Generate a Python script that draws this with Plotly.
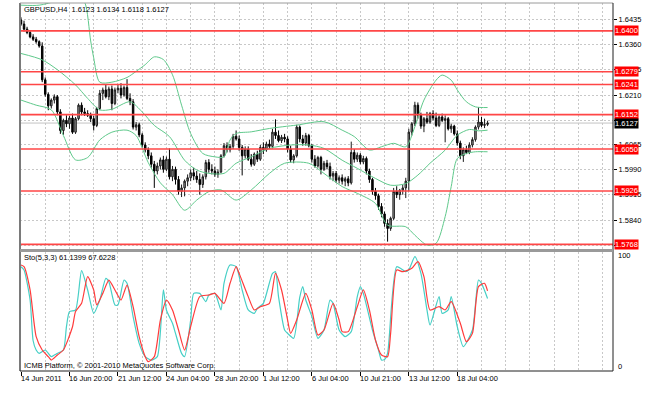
import plotly.graph_objects as go

# ---------------- data ----------------
open_ = [1.6432,1.6420,1.6405,1.6395,1.6382,1.6375,1.6368,1.6355,1.6255,1.6212,
         1.6178,1.6195,1.6205,1.6160,1.6105,1.6135,1.6125,1.6142,1.6100,1.6140,
         1.6180,1.6160,1.6155,1.6150,1.6140,1.6120,1.6170,1.6215,1.6225,1.6205,
         1.6228,1.6185,1.6225,1.6230,1.6210,1.6232,1.6200,1.6190,1.6115,1.6122,
         1.6092,1.6062,1.6048,1.6030,1.6005,1.5985,1.6000,1.6018,1.5990,1.6020,
         1.5968,1.5990,1.5960,1.5925,1.5935,1.5955,1.5965,1.5980,1.5970,1.5960,
         1.5945,1.5968,1.6010,1.5990,1.5985,1.5975,1.5982,1.6030,1.6060,1.6048,
         1.6058,1.6088,1.6080,1.6055,1.6030,1.6050,1.6020,1.6005,1.6035,1.6020,
         1.6055,1.6048,1.6065,1.6058,1.6100,1.6090,1.6075,1.6085,1.6080,1.6050,
         1.6018,1.6030,1.6115,1.6080,1.6068,1.6090,1.6060,1.6020,1.6000,1.6025,
         1.5990,1.6008,1.5998,1.5970,1.5978,1.5958,1.5965,1.5955,1.5962,1.5950,
         1.6040,1.6020,1.6032,1.6012,1.6022,1.5985,1.5960,1.5925,1.5912,1.5880,
         1.5858,1.5830,1.5815,1.5845,1.5925,1.5915,1.5928,1.5935,1.5955,1.6100,
         1.6125,1.6180,1.6150,1.6118,1.6140,1.6130,1.6155,1.6142,1.6120,1.6145,
         1.6135,1.6140,1.6110,1.6118,1.6095,1.6068,1.6030,1.6048,1.6040,1.6062,
         1.6078,1.6115,1.6130,1.6120,1.6123]
high = [1.6440,1.6430,1.6412,1.6400,1.6390,1.6382,1.6372,1.6366,1.6262,1.6218,
        1.6200,1.6212,1.6210,1.6168,1.6140,1.6150,1.6148,1.6155,1.6145,1.6185,
        1.6188,1.6172,1.6165,1.6158,1.6148,1.6175,1.6225,1.6232,1.6240,1.6235,
        1.6238,1.6232,1.6240,1.6245,1.6238,1.6257,1.6215,1.6198,1.6130,1.6128,
        1.6098,1.6070,1.6055,1.6040,1.6015,1.6010,1.6025,1.6030,1.6028,1.6052,
        1.6000,1.5998,1.5970,1.5945,1.5960,1.5975,1.5990,1.5995,1.5985,1.5978,
        1.5975,1.6018,1.6020,1.6005,1.5998,1.5990,1.6035,1.6068,1.6070,1.6065,
        1.6095,1.6105,1.6090,1.6062,1.6058,1.6058,1.6035,1.6040,1.6045,1.6062,
        1.6070,1.6072,1.6078,1.6110,1.6138,1.6105,1.6092,1.6095,1.6088,1.6060,
        1.6035,1.6122,1.6120,1.6092,1.6098,1.6095,1.6065,1.6032,1.6030,1.6030,
        1.6015,1.6018,1.6010,1.5985,1.5985,1.5972,1.5975,1.5968,1.5970,1.6072,
        1.6050,1.6040,1.6038,1.6030,1.6028,1.5992,1.5965,1.5935,1.5918,1.5890,
        1.5865,1.5842,1.5850,1.5935,1.5940,1.5932,1.5945,1.5965,1.6110,1.6130,
        1.6190,1.6188,1.6158,1.6145,1.6160,1.6160,1.6165,1.6158,1.6150,1.6155,
        1.6150,1.6145,1.6125,1.6122,1.6105,1.6075,1.6055,1.6060,1.6070,1.6085,
        1.6120,1.6174,1.6145,1.6140,1.6134]
low = [1.6415,1.6398,1.6390,1.6378,1.6370,1.6362,1.6350,1.6248,1.6205,1.6165,
       1.6170,1.6185,1.6150,1.6095,1.6092,1.6115,1.6110,1.6095,1.6095,1.6135,
       1.6150,1.6148,1.6145,1.6130,1.6105,1.6115,1.6165,1.6195,1.6200,1.6195,
       1.6165,1.6180,1.6215,1.6200,1.6205,1.6195,1.6180,1.6108,1.6105,1.6085,
       1.6055,1.6040,1.6020,1.5995,1.5935,1.5975,1.5990,1.5980,1.5985,1.5960,
       1.5955,1.5945,1.5915,1.5908,1.5910,1.5940,1.5955,1.5958,1.5950,1.5915,
       1.5935,1.5960,1.5980,1.5975,1.5968,1.5965,1.5978,1.6025,1.6040,1.6040,
       1.6050,1.6075,1.6045,1.5972,1.6022,1.6015,1.5998,1.6000,1.6012,1.6015,
       1.6035,1.6042,1.6050,1.6052,1.6080,1.6070,1.6068,1.6070,1.6040,1.6010,
       1.6008,1.6025,1.6070,1.6060,1.6060,1.6055,1.6010,1.5995,1.5995,1.5975,
       1.5985,1.5990,1.5960,1.5955,1.5950,1.5948,1.5945,1.5940,1.5940,1.5945,
       1.6010,1.6012,1.6005,1.6005,1.5975,1.5950,1.5915,1.5900,1.5870,1.5848,
       1.5820,1.5776,1.5808,1.5840,1.5905,1.5900,1.5915,1.5905,1.5925,1.6090,
       1.6118,1.6140,1.6110,1.6100,1.6125,1.6125,1.6135,1.6115,1.6115,1.6130,
       1.6070,1.6105,1.6098,1.6090,1.6060,1.6020,1.6012,1.6035,1.6035,1.6055,
       1.6072,1.6108,1.6115,1.6112,1.6118]
close = [1.6420,1.6405,1.6395,1.6382,1.6375,1.6368,1.6355,1.6255,1.6212,1.6178,
         1.6195,1.6205,1.6160,1.6105,1.6135,1.6125,1.6142,1.6100,1.6140,1.6180,
         1.6160,1.6155,1.6150,1.6140,1.6120,1.6170,1.6215,1.6225,1.6205,1.6228,
         1.6185,1.6225,1.6230,1.6210,1.6232,1.6200,1.6190,1.6115,1.6122,1.6092,
         1.6062,1.6048,1.6030,1.6005,1.5985,1.6000,1.6018,1.5990,1.6020,1.5968,
         1.5990,1.5960,1.5925,1.5935,1.5955,1.5965,1.5980,1.5970,1.5960,1.5945,
         1.5968,1.6010,1.5990,1.5985,1.5975,1.5982,1.6030,1.6060,1.6048,1.6058,
         1.6088,1.6080,1.6055,1.6030,1.6050,1.6020,1.6005,1.6035,1.6020,1.6055,
         1.6048,1.6065,1.6058,1.6100,1.6090,1.6075,1.6085,1.6080,1.6050,1.6018,
         1.6030,1.6115,1.6080,1.6068,1.6090,1.6060,1.6020,1.6000,1.6025,1.5990,
         1.6008,1.5998,1.5970,1.5978,1.5958,1.5965,1.5955,1.5962,1.5950,1.6040,
         1.6020,1.6032,1.6012,1.6022,1.5985,1.5960,1.5925,1.5912,1.5880,1.5858,
         1.5830,1.5815,1.5845,1.5925,1.5915,1.5928,1.5935,1.5955,1.6100,1.6125,
         1.6180,1.6150,1.6118,1.6140,1.6130,1.6155,1.6142,1.6120,1.6145,1.6135,
         1.6140,1.6110,1.6118,1.6095,1.6068,1.6030,1.6048,1.6040,1.6062,1.6078,
         1.6115,1.6130,1.6120,1.6123,1.6127]
bars = list(range(len(close)))

# Bollinger band lines (read at sample bars)
bb_upper_bar = [0, 6, 12, 16, 19, 21, 23, 24, 26, 30, 35, 38, 41, 44, 47, 50, 53, 56, 60, 64, 67,
                69, 71, 76, 82, 91, 100, 106, 110, 115, 119, 123, 127, 130, 133, 137, 139, 142,
                144, 147, 150, 154]
bb_upper = [1.6476, 1.6476, 1.6490, 1.6510, 1.6500, 1.6485, 1.6370, 1.6320, 1.6248, 1.6248,
            1.6262, 1.6280, 1.6300, 1.6323, 1.6315, 1.6270, 1.6180, 1.6096, 1.6037, 1.6027,
            1.6027, 1.6077, 1.6096, 1.6101, 1.6111, 1.6121, 1.6131, 1.6106, 1.6087, 1.6047,
            1.6057, 1.6067, 1.6057, 1.6116, 1.6195, 1.6254, 1.6269, 1.6254, 1.6225, 1.6190,
            1.6175, 1.6173]
bb_mid_bar = [0, 7, 12, 18, 22, 26, 30, 36, 40, 44, 49, 54, 58, 62, 67, 71, 76, 82, 89, 95,
              100, 106, 111, 117, 122, 127, 131, 135, 140, 144, 148, 151, 154]
bb_mid = [1.6333, 1.6314, 1.6285, 1.6240, 1.6200, 1.6166, 1.6168, 1.6190, 1.6160, 1.6120,
          1.6087, 1.6017, 1.5988, 1.5978, 1.5978, 1.6008, 1.6027, 1.6052, 1.6062, 1.6062,
          1.6052, 1.6017, 1.5993, 1.5963, 1.5943, 1.5948, 1.5973, 1.6008, 1.6047, 1.6091,
          1.6108, 1.6104, 1.6106]
bb_lower_bar = [0, 5, 10, 14, 18, 22, 26, 30, 35, 38, 42, 46, 50, 54, 58, 62, 66, 71, 76, 82,
                87, 95, 100, 106, 111, 117, 121, 127, 130, 134, 137, 140, 142, 144, 147, 150, 154]
bb_lower = [1.6195, 1.6180, 1.6166, 1.6090, 1.6018, 1.6025, 1.6077, 1.6100, 1.6106, 1.6090,
            1.6010, 1.5950, 1.5915, 1.5869, 1.5899, 1.5924, 1.5929, 1.5899, 1.5929, 1.5978,
            1.6008, 1.6008, 1.5978, 1.5939, 1.5919, 1.5889, 1.5825, 1.5820, 1.5795, 1.5766,
            1.5771, 1.5850, 1.5939, 1.6022, 1.6037, 1.6042, 1.6042]

# Stochastic (5,3,3)
sto_main_bar = [0,1,3,4,5,6,8,10,11,12,14,15,16,18,20,22,24,26,28,29,31,32,34,35,37,39,41,43,45,
                47,48,50,51,53,54,56,57,59,61,62,64,66,67,69,71,73,75,77,78,80,83,84,85,87,88,90,
                92,93,94,96,98,100,102,103,105,107,109,111,112,113,116,118,119,120,121,124,127,
                128,130,132,134,135,138,139,141,142,144,146,149,151,152,153,154]
sto_main = [88.3,85.5,59.8,25.0,17.1,14.2,17.1,11.4,12.8,14.2,17.1,37.0,49.9,51.3,84.9,68.4,
            48.4,59.8,78.3,75.5,55.6,55.6,76.9,74.1,45.6,22.8,11.4,8.5,11.4,68.4,51.3,39.9,31.3,
            14.2,11.4,42.7,65.5,65.5,58.4,64.1,65.5,51.3,74.1,89.7,88.3,68.4,51.3,48.4,52.7,57.0,
            82.6,84.0,62.7,34.2,31.3,27.1,62.0,71.2,59.8,45.6,27.1,34.2,59.8,57.0,34.2,28.5,32.8,
            62.7,71.2,65.5,34.2,17.1,8.5,9.0,14.2,88.3,84.0,85.5,96.9,82.6,51.3,38.5,62.7,48.4,
            51.3,62.7,37.0,19.9,34.2,76.9,74.1,68.0,61.14]
sto_signal_bar = [0,1,3,5,7,9,10,12,14,17,18,20,22,24,25,27,29,31,33,35,37,39,41,42,44,46,48,
                  50,52,54,56,59,62,64,67,69,71,72,75,77,79,82,84,86,88,89,91,94,96,98,100,103,
                  105,106,108,111,113,115,117,119,121,122,124,126,129,131,133,135,138,140,142,
                  145,147,149,151,153,154]
sto_signal = [89.7,88.3,68.4,28.5,17.1,11.4,8.5,12.8,17.1,37.0,49.9,57.0,79.8,68.4,55.6,65.5,
              76.9,68.4,59.8,72.6,54.1,28.5,11.4,7.1,11.4,42.7,59.8,51.3,34.2,17.1,37.0,62.7,64.1,
              65.5,57.0,74.1,88.3,82.6,62.7,51.3,54.1,57.0,82.6,68.4,42.7,31.3,42.7,65.5,51.3,29.9,
              34.2,57.0,42.7,32.8,32.8,54.1,68.4,51.3,25.6,12.8,11.4,31.3,85.5,84.0,86.9,92.6,79.8,
              51.3,54.1,51.3,58.4,39.9,24.2,31.3,71.2,74.1,67.62]

levels = [1.6400, 1.6279, 1.6241, 1.6152, 1.6050, 1.5926, 1.5768]
current_price = 1.6127
price_ticks = [1.6435, 1.6360, 1.6285, 1.6210, 1.6135, 1.6065, 1.5990, 1.5915, 1.5840, 1.5765]
# labels of 1.6135 and 1.5765 are fully covered by the price boxes in the picture
price_tick_labels = ["1.6435", "1.6360", "1.6285", "1.6210", "", "1.6065", "1.5990", "1.5915",
                     "1.5840", ""]
date_tick_bars = [0, 16, 32, 48, 64, 80, 96, 112, 128, 144]
date_tick_labels = ["14 Jun 2011", "16 Jun 20:00", "21 Jun 12:00", "24 Jun 04:00", "28 Jun 20:00",
                    "1 Jul 12:00", "6 Jul 04:00", "10 Jul 21:00", "13 Jul 12:00", "18 Jul 04:00"]
title_text = "GBPUSD,H4  1.6123 1.6134 1.6118 1.6127"
sto_text = "Sto(5,3,3) 61.1399 67.6228"
copyright_text = "ICMB Platform, \u00a9 2001-2010 MetaQuotes Software Corp."

# ---------------- layout helpers ----------------
W, H = 647, 394
L, R, T, B = 20, 613, 3, 371
def py(Y):
    return (B - Y) / (B - T)
def px(X):
    return (X - L) / (R - L)

FONT = "Liberation Sans"
FS = 7.5
BB_COLOR = "#5fc98b"

fig = go.Figure()

fig.add_trace(go.Candlestick(
    x=bars, open=open_, high=high, low=low, close=close,
    increasing=dict(line=dict(color="#1a1a1a", width=1), fillcolor="#a8a8a8"),
    decreasing=dict(line=dict(color="#000000", width=1), fillcolor="#000000"),
    whiskerwidth=0, xaxis="x", yaxis="y", hoverinfo="skip", showlegend=False))

for xs, ys in [(bb_upper_bar, bb_upper), (bb_mid_bar, bb_mid), (bb_lower_bar, bb_lower)]:
    fig.add_trace(go.Scatter(x=xs, y=ys, mode="lines",
                             line=dict(color=BB_COLOR, width=1, shape="spline", smoothing=0.8),
                             xaxis="x", yaxis="y", hoverinfo="skip", showlegend=False))

fig.add_trace(go.Scatter(x=sto_main_bar, y=sto_main, mode="lines",
                         line=dict(color="#46cfc6", width=1.2, shape="spline", smoothing=0.6),
                         xaxis="x2", yaxis="y2", hoverinfo="skip", showlegend=False))
fig.add_trace(go.Scatter(x=sto_signal_bar, y=sto_signal, mode="lines",
                         line=dict(color="#ff3b3b", width=1.2, shape="spline", smoothing=0.6),
                         xaxis="x2", yaxis="y2", hoverinfo="skip", showlegend=False))

shapes = []
for lv in levels:
    shapes.append(dict(type="line", xref="paper", yref="y", x0=0, x1=1, y0=lv, y1=lv,
                       line=dict(color="rgb(255,70,70)", width=1.6), layer="above"))
shapes.append(dict(type="line", xref="paper", yref="y", x0=0, x1=1, y0=current_price,
                   y1=current_price, line=dict(color="#c4c4c4", width=1), layer="below"))
shapes += [
    dict(type="line", xref="paper", yref="paper", x0=0, x1=0, y0=0, y1=1,
         line=dict(color="#7a7a7a", width=2)),
    dict(type="line", xref="paper", yref="paper", x0=0, x1=1, y0=1, y1=1,
         line=dict(color="#9a9a9a", width=1)),
    dict(type="line", xref="paper", yref="paper", x0=1, x1=1, y0=0, y1=1,
         line=dict(color="#202020", width=1)),
    dict(type="line", xref="paper", yref="paper", x0=0, x1=1, y0=0, y1=0,
         line=dict(color="#202020", width=1)),
    dict(type="rect", xref="paper", yref="paper", x0=0, x1=1, y0=py(252), y1=py(249),
         line=dict(width=0), fillcolor="#9a9a9a"),
]

annotations = []
def txt(X, Y, s, **kw):
    d = dict(xref="paper", yref="paper", x=px(X), y=py(Y), text=s, showarrow=False,
             xanchor="left", yanchor="middle", font=dict(family=FONT, size=FS, color="#000"))
    d.update(kw)
    annotations.append(d)

txt(22, 9.5, title_text)
txt(22, 257, sto_text)
txt(22, 365, copyright_text)
txt(616, 255.5, "100")
txt(616, 366, "0")

for b, lab in zip(date_tick_bars, date_tick_labels):
    annotations.append(dict(xref="x2", yref="paper", x=b, y=py(378.5), text=lab,
                            showarrow=False, xanchor="left", yanchor="middle", xshift=-2,
                            font=dict(family=FONT, size=FS, color="#000")))

for lv in levels:
    annotations.append(dict(xref="paper", yref="y", x=1, y=lv, text="%.4f" % lv,
                            showarrow=False, xanchor="left", yanchor="middle", xshift=1,
                            bgcolor="#ff0000", borderpad=0,
                            font=dict(family=FONT, size=FS, color="#ffffff")))
annotations.append(dict(xref="paper", yref="y", x=1, y=current_price,
                        text="%.4f" % current_price, showarrow=False, xanchor="left",
                        yanchor="middle", xshift=1, bgcolor="#000000", borderpad=0,
                        font=dict(family=FONT, size=FS, color="#ffffff")))

xr = [-0.33, 195.4]
GC = "#c8c8c8"
fig.update_layout(
    width=W, height=H, margin=dict(l=L, r=W - R, t=T, b=H - B, autoexpand=False),
    paper_bgcolor="white", plot_bgcolor="white", showlegend=False,
    xaxis=dict(domain=[0, 1], anchor="y", range=xr, rangeslider=dict(visible=False),
               tickmode="linear", tick0=0, dtick=8, showticklabels=False, ticks="",
               showgrid=True, gridcolor=GC, griddash="2px,2px", gridwidth=1,
               zeroline=False, showline=False, fixedrange=True),
    yaxis=dict(domain=[py(249), 1], anchor="x", range=[1.57542, 1.64824], side="right",
               tickmode="array", tickvals=price_ticks, ticktext=price_tick_labels,
               ticks="outside", ticklen=3, tickcolor="#000",
               tickfont=dict(family=FONT, size=FS, color="#000"),
               showgrid=True, gridcolor=GC, griddash="2px,2px", zeroline=False,
               showline=False, automargin=False),
    xaxis2=dict(domain=[0, 1], anchor="y2", range=xr, matches="x",
                tickmode="array", tickvals=date_tick_bars, ticktext=[""] * len(date_tick_bars),
                ticks="outside", ticklen=4, tickcolor="#000", showgrid=True,
                gridcolor=GC, griddash="2px,2px",
                minor=dict(tickmode="linear", tick0=0, dtick=8, showgrid=True,
                           gridcolor=GC, griddash="2px,2px", ticks=""),
                zeroline=False, showline=False, automargin=False),
    yaxis2=dict(domain=[0, py(252)], anchor="x2", range=[-0.86, 100.86], side="right",
                showticklabels=False, ticks="", showgrid=False, zeroline=False, showline=False),
    shapes=shapes, annotations=annotations,
)

fig.write_html("out.html", config={"displayModeBar": False},
               post_script="document.body.style.margin='0';document.body.style.padding='0';")
